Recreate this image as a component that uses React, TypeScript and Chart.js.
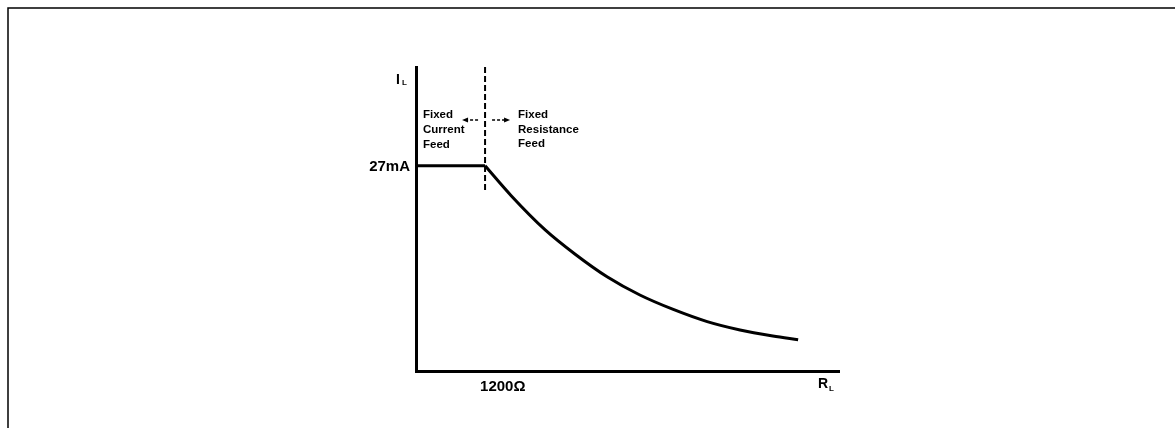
import React, { useEffect, useRef } from "react";
import { Chart, registerables } from "chart.js";

Chart.register(...registerables);

// Load resistance R_L (ohms) and loop current I_L (mA)
const flatResistance = [0, 1200];
const flatCurrent = [27, 27];
const curveResistance = [1200, 1650, 2240, 2760, 3320, 3890, 4470, 5060, 5630, 6200, 6640];
const curveCurrent = [27, 23.1, 18.6, 15.4, 12.4, 10.0, 8.1, 6.5, 5.4, 4.6, 4.1];
const breakResistance = 1200;
const dashedCurrent = [40, 23.6];
const yTickValue = 27;
const yTickLabel = "27mA";
const xTickLabel = "1200\u03A9";
const leftLabels = ["Fixed", "Current", "Feed"];
const rightLabels = ["Fixed", "Resistance", "Feed"];
const xMax = 7350;
const yMax = 40;

const FONT = "'Liberation Sans', Arial, Helvetica, sans-serif";

const annotations = {
  id: "annotations",
  afterDraw(chart: any) {
    const ctx = chart.ctx as CanvasRenderingContext2D;
    const xs = chart.scales.x;
    const ys = chart.scales.y;
    const left = chart.chartArea.left;
    const top = chart.chartArea.top;
    const bottom = chart.chartArea.bottom;
    const right = chart.chartArea.right;
    const bx = xs.getPixelForValue(breakResistance);
    ctx.save();
    ctx.fillStyle = "#000";
    ctx.strokeStyle = "#000";

    // page frame (top and left)
    ctx.lineWidth = 1.5;
    ctx.beginPath();
    ctx.moveTo(8, 428);
    ctx.lineTo(8, 8);
    ctx.lineTo(1175, 8);
    ctx.stroke();

    // I_L
    ctx.textAlign = "left";
    ctx.textBaseline = "alphabetic";
    ctx.font = `bold 14px ${FONT}`;
    ctx.fillText("I", left - 20, top + 17);
    ctx.font = `bold 8px ${FONT}`;
    ctx.fillText("L", left - 14, top + 18);

    // 27mA
    ctx.font = `bold 15px ${FONT}`;
    ctx.textAlign = "right";
    ctx.textBaseline = "middle";
    ctx.fillText(yTickLabel, left - 6, ys.getPixelForValue(yTickValue) + 1);

    // 1200 ohm
    ctx.textAlign = "left";
    ctx.fillText(xTickLabel, bx - 5, bottom + 16);

    // R_L
    ctx.textBaseline = "alphabetic";
    ctx.font = `bold 14px ${FONT}`;
    ctx.fillText("R", right - 21, bottom + 17);
    ctx.font = `bold 8px ${FONT}`;
    ctx.fillText("L", right - 10, bottom + 20);

    // region labels
    ctx.font = `bold 11.5px ${FONT}`;
    ctx.textBaseline = "middle";
    leftLabels.forEach((t, i) => ctx.fillText(t, left + 7, top + 48 + i * 15));
    rightLabels.forEach((t, i) => ctx.fillText(t, bx + 33, top + 48 + i * 14.5));

    // arrows
    const ay = top + 53;
    ctx.lineWidth = 1.5;
    ctx.setLineDash([3, 2]);
    ctx.beginPath();
    ctx.moveTo(bx - 7, ay);
    ctx.lineTo(bx - 19, ay);
    ctx.moveTo(bx + 7, ay);
    ctx.lineTo(bx + 20, ay);
    ctx.stroke();
    ctx.setLineDash([]);
    ctx.beginPath();
    ctx.moveTo(bx - 23, ay);
    ctx.lineTo(bx - 17, ay - 2.5);
    ctx.lineTo(bx - 17, ay + 2.5);
    ctx.closePath();
    ctx.moveTo(bx + 25, ay);
    ctx.lineTo(bx + 19, ay - 2.5);
    ctx.lineTo(bx + 19, ay + 2.5);
    ctx.closePath();
    ctx.fill();
    ctx.restore();
  },
};

export default function App() {
  const ref = useRef<HTMLCanvasElement>(null);
  useEffect(() => {
    document.body.style.margin = "0";
    const chart = new Chart(ref.current!, {
      type: "line",
      data: {
        datasets: [
          {
            data: flatResistance.map((x, i) => ({ x, y: flatCurrent[i] })),
            borderColor: "#000",
            borderWidth: 3,
            pointRadius: 0,
            tension: 0,
          },
          {
            data: curveResistance.map((x, i) => ({ x, y: curveCurrent[i] })),
            borderColor: "#000",
            borderWidth: 3,
            pointRadius: 0,
            cubicInterpolationMode: "monotone",
          },
          {
            data: dashedCurrent.map((y) => ({ x: breakResistance, y })),
            borderColor: "#000",
            borderWidth: 2,
            borderDash: [6, 3],
            pointRadius: 0,
            clip: false,
          },
        ],
      },
      options: {
        animation: false,
        responsive: true,
        maintainAspectRatio: false,
        layout: { padding: { left: 416, right: 336, top: 67, bottom: 57 } },
        plugins: { legend: { display: false }, tooltip: { enabled: false } },
        scales: {
          x: {
            type: "linear",
            min: 0,
            max: xMax,
            ticks: { display: false },
            grid: { display: false, drawTicks: false },
            border: { display: true, color: "#000", width: 3 },
          },
          y: {
            type: "linear",
            min: 0,
            max: yMax,
            ticks: { display: false },
            grid: { display: false, drawTicks: false },
            border: { display: true, color: "#000", width: 3 },
          },
        },
      },
      plugins: [annotations],
    });
    return () => chart.destroy();
  }, []);
  return (
    <div style={{ position: "relative", width: 1175, height: 428, background: "#fff" }}>
      <canvas ref={ref} />
    </div>
  );
}
